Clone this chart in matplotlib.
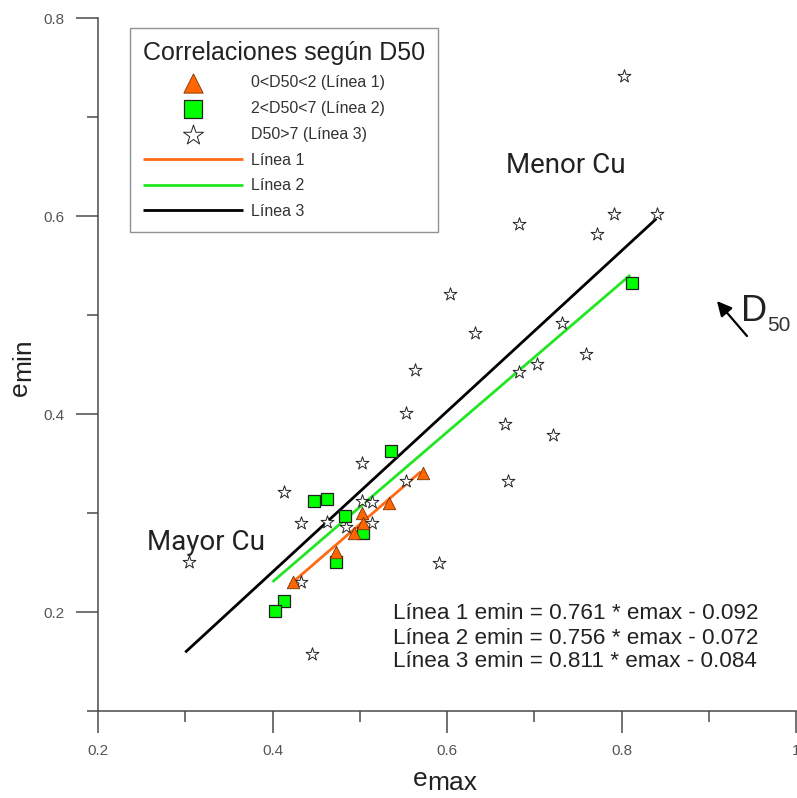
import matplotlib
matplotlib.use("Agg")
import matplotlib.pyplot as plt
from matplotlib.ticker import FixedLocator, FuncFormatter

plt.rcParams['font.family'] = ['Liberation Sans', 'DejaVu Sans']

# ---- data ----
tri_emax = [0.572, 0.533, 0.503, 0.504, 0.493, 0.473, 0.423]
tri_emin = [0.340, 0.310, 0.300, 0.290, 0.280, 0.261, 0.230]

sq_emax = [0.536, 0.448, 0.462, 0.483, 0.504, 0.473, 0.413, 0.403, 0.812]
sq_emin = [0.363, 0.312, 0.314, 0.297, 0.280, 0.251, 0.211, 0.201, 0.532]

star_emax = [0.803, 0.682, 0.791, 0.772, 0.841, 0.603, 0.632, 0.732, 0.759, 0.703,
             0.682, 0.563, 0.553, 0.667, 0.722, 0.670, 0.553, 0.503, 0.413, 0.503,
             0.514, 0.433, 0.462, 0.484, 0.514, 0.591, 0.433, 0.304, 0.445]
star_emin = [0.741, 0.592, 0.602, 0.582, 0.602, 0.521, 0.482, 0.492, 0.461, 0.451,
             0.442, 0.444, 0.401, 0.390, 0.379, 0.332, 0.332, 0.351, 0.321, 0.312,
             0.311, 0.290, 0.291, 0.286, 0.290, 0.249, 0.230, 0.251, 0.158]

line_slopes = [0.761, 0.756, 0.811]
line_intercepts = [-0.092, -0.072, -0.084]
line_xranges = [(0.42, 0.57), (0.40, 0.81), (0.30, 0.84)]
line_colors = ['#FF6A13', '#22E622', '#000000']
line_labels = ['Línea 1', 'Línea 2', 'Línea 3']

xticks_major = [0.2, 0.4, 0.6, 0.8, 1.0]
xticks_minor = [0.3, 0.5, 0.7, 0.9]
yticks_major = [0.2, 0.4, 0.6, 0.8]
yticks_minor = [0.1, 0.3, 0.5, 0.7]

# ---- figure ----
fig = plt.figure(figsize=(7.97, 7.98), dpi=100)
ax = fig.add_axes([98/797, 1-711/798, (796-98)/797, (711-18)/798])
ax.set_xlim(0.2, 1.0)
ax.set_ylim(0.1, 0.8)

spine_col = '#4a4a4a'
for s in ['top', 'right']:
    ax.spines[s].set_visible(False)
for s in ['left', 'bottom']:
    ax.spines[s].set_color(spine_col)
    ax.spines[s].set_linewidth(1.1)

ax.xaxis.set_major_locator(FixedLocator(xticks_major))
ax.xaxis.set_minor_locator(FixedLocator(xticks_minor))
ax.yaxis.set_major_locator(FixedLocator(yticks_major))
ax.yaxis.set_minor_locator(FixedLocator(yticks_minor))
fmt = FuncFormatter(lambda v, p: '{:g}'.format(round(v, 2)))
ax.xaxis.set_major_formatter(fmt)
ax.yaxis.set_major_formatter(fmt)
ax.tick_params(which='major', direction='out', length=16, width=1.1, color=spine_col,
               labelsize=11, labelcolor='#555555', pad=8)
ax.tick_params(which='minor', direction='out', length=8, width=1.1, color=spine_col)
for lab in ax.get_xticklabels() + ax.get_yticklabels():
    lab.set_clip_on(False)

# regression lines
handles_lines = []
for m, b, (x0, x1), c, lbl in zip(line_slopes, line_intercepts, line_xranges, line_colors, line_labels):
    xs = [x0, x1]
    ys = [m * x + b for x in xs]
    h, = ax.plot(xs, ys, color=c, lw=2.0, label=lbl, zorder=2, solid_capstyle='butt')
    handles_lines.append(h)

h_star = ax.scatter(star_emax, star_emin, marker='*', s=95, facecolor='white',
                    edgecolor='#222222', linewidth=0.7, zorder=3)
h_sq = ax.scatter(sq_emax, sq_emin, marker='s', s=72, facecolor='#00FF00',
                  edgecolor='#222222', linewidth=0.9, zorder=4)
h_tri = ax.scatter(tri_emax, tri_emin, marker='^', s=80, facecolor='#FF6600',
                   edgecolor='#7a3000', linewidth=0.6, zorder=5)

leg = ax.legend([h_tri, h_sq, h_star] + handles_lines,
                ['0<D50<2 (Línea 1)', '2<D50<7 (Línea 2)', 'D50>7 (Línea 3)'] + line_labels,
                loc='upper left', bbox_to_anchor=(130/797, 1-28/798),
                bbox_transform=fig.transFigure, fontsize=11.5, title='Correlaciones según D50',
                title_fontsize=18, frameon=True, fancybox=False, markerscale=1.55,
                handlelength=6.25, handletextpad=0.5, labelspacing=0.67,
                borderpad=0.8, borderaxespad=0, scatterpoints=1, alignment='left')
leg.get_frame().set_edgecolor('#777777')
leg.get_frame().set_linewidth(1.0)
leg.get_title().set_color('#222222')
for t in leg.get_texts():
    t.set_color('#333333')

# annotations
ax.text(0.7364, 0.6515, 'Menor Cu', fontsize=20, family=['Roboto', 'Liberation Sans'],
        color='#222222', ha='center', va='center')
ax.text(0.3238, 0.2707, 'Mayor Cu', fontsize=20, family=['Roboto', 'Liberation Sans'],
        color='#222222', ha='center', va='center')

eqs = ['Línea 1 emin = 0.761 * emax - 0.092',
       'Línea 2 emin = 0.756 * emax - 0.072',
       'Línea 3 emin = 0.811 * emax - 0.084']
eq_y = [0.198, 0.1737, 0.1495]
for s, y in zip(eqs, eq_y):
    ax.text(0.538, y, s, fontsize=16.2, color='#222222', ha='left', va='center')

# D50 arrow
ax.annotate('', xy=(0.9094, 0.5141), xytext=(0.9438, 0.4788),
            arrowprops=dict(arrowstyle='-|>', color='black', lw=1.6,
                            mutation_scale=22, shrinkA=0, shrinkB=0))
tD = ax.text(0.9375, 0.4935, 'D', fontsize=26, color='#222222', ha='left', va='baseline')
ax.annotate('50', xy=(1, 0), xycoords=tD, xytext=(0, -4), textcoords='offset points',
            fontsize=15, color='#333333', ha='left', va='bottom')

# axis labels (e + subscript-like text)
te = fig.text(413/797, 1-786/798, 'e', fontsize=19, color='#222222', ha='left', va='baseline')
ax.annotate('max', xy=(1, 0), xycoords=te, xytext=(0, -3), textcoords='offset points',
            fontsize=19, color='#222222', ha='left', va='bottom')
tey = fig.text(32/797, 1-396/798, 'e', fontsize=19, color='#222222', rotation=90,
               ha='right', va='bottom')
ax.annotate('min', xy=(0.5, 1), xycoords=tey, xytext=(2, 0), textcoords='offset points',
            fontsize=19, color='#222222', rotation=90, ha='center', va='bottom')

fig.savefig('out.png', dpi=100)
